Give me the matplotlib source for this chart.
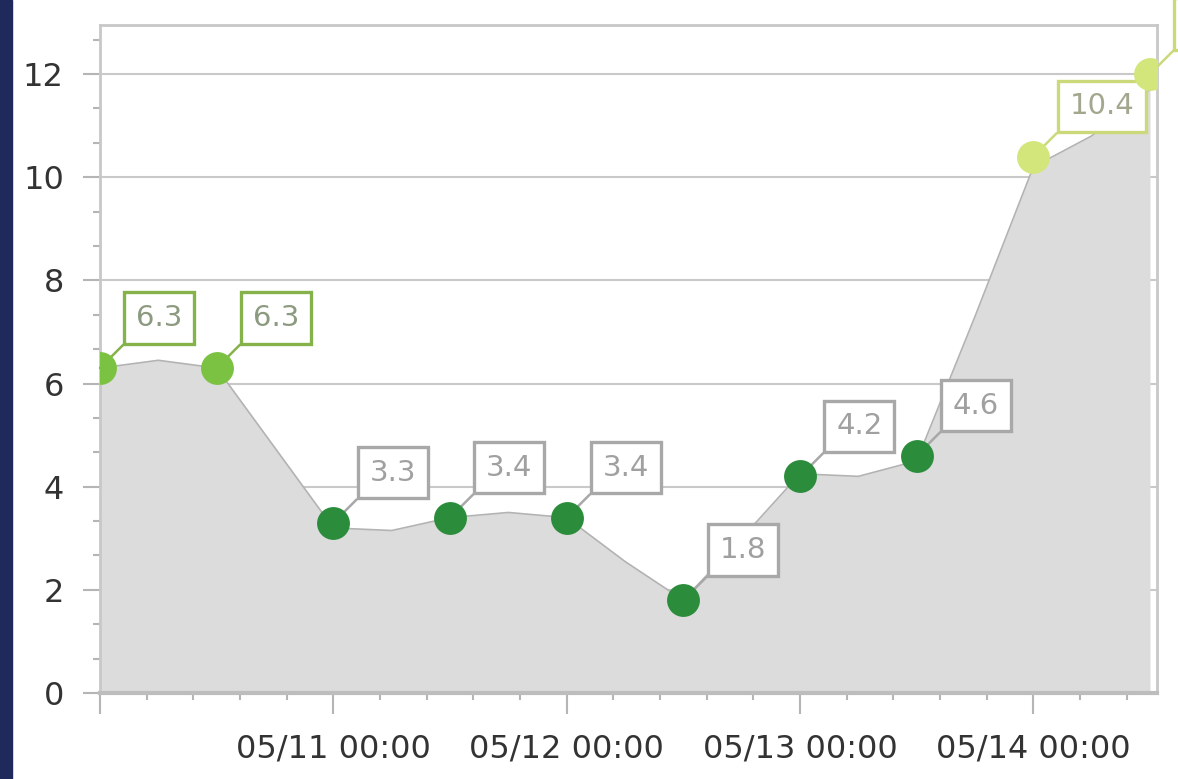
import matplotlib
matplotlib.use("Agg")
import matplotlib.pyplot as plt
import matplotlib.dates as mdates
from matplotlib.ticker import MultipleLocator, AutoMinorLocator
from matplotlib.patches import Rectangle
import pandas as pd

# point series (every 12 h)
point_times = ["2024-05-10 00:00", "2024-05-10 12:00", "2024-05-11 00:00",
               "2024-05-11 12:00", "2024-05-12 00:00", "2024-05-12 12:00",
               "2024-05-13 00:00", "2024-05-13 12:00", "2024-05-14 00:00",
               "2024-05-14 12:00"]
point_values = [6.3, 6.3, 3.3, 3.4, 3.4, 1.8, 4.2, 4.6, 10.4, 12.0]

# grey area (read every 6 h)
area_times = ["2024-05-10 00:00", "2024-05-10 06:00", "2024-05-10 12:00",
              "2024-05-10 18:00", "2024-05-11 00:00", "2024-05-11 06:00",
              "2024-05-11 12:00", "2024-05-11 18:00", "2024-05-12 00:00",
              "2024-05-12 06:00", "2024-05-12 12:00", "2024-05-12 18:00",
              "2024-05-13 00:00", "2024-05-13 06:00", "2024-05-13 12:00",
              "2024-05-13 18:00", "2024-05-14 00:00", "2024-05-14 06:00",
              "2024-05-14 12:00"]
area_values = [6.3, 6.45, 6.3, 4.75, 3.2, 3.15, 3.4, 3.5, 3.4, 2.55, 1.8,
               3.0, 4.25, 4.2, 4.5, 7.3, 10.2, 10.8, 11.7]

tick_times = ["2024-05-10 00:00", "2024-05-11 00:00", "2024-05-12 00:00",
              "2024-05-13 00:00", "2024-05-14 00:00"]
tick_labels = ["", "05/11 00:00", "05/12 00:00", "05/13 00:00", "05/14 00:00"]

pt_x = mdates.date2num(pd.to_datetime(point_times))
ar_x = mdates.date2num(pd.to_datetime(area_times))
tk_x = mdates.date2num(pd.to_datetime(tick_times))

fig = plt.figure(figsize=(11.78, 7.79), dpi=100)
fig.patches.append(Rectangle((0, 0), 12 / 1178, 1, transform=fig.transFigure,
                             color="#1f295b", zorder=0))
ax = fig.add_axes([100 / 1178, 86 / 779, 1057 / 1178, 668 / 779])

ax.fill_between(ar_x, area_values, 0, color="#dcdcdc", zorder=2, lw=0)
ax.plot(ar_x, area_values, color="#b3b3b3", lw=1.2, zorder=3)


def style_for(v):
    # marker colour, box border, text colour
    if v >= 8:
        return "#d3e67c", "#cbd97a", "#a2a78e"
    if v >= 5:
        return "#7cc242", "#86b24c", "#8c9a80"
    return "#2b8c3b", "#a8a8a8", "#a0a0a0"


for x, v in zip(pt_x, point_values):
    mc, bc, tc = style_for(v)
    sc = ax.scatter([x], [v], s=560, color=mc, lw=0, zorder=7)
    sc.set_clip_path(ax.patch)
    ax.annotate(f"{v:.1f}", xy=(x, v), xytext=(26, 26), textcoords="offset points",
                fontsize=21, color=tc, ha="left", va="bottom",
                bbox=dict(boxstyle="square,pad=0.4", fc="white", ec=bc, lw=2.4),
                arrowprops=dict(arrowstyle="-", color=bc, lw=1.8, relpos=(0, 0),
                                shrinkA=0, shrinkB=0),
                annotation_clip=False, zorder=6)

ax.set_xlim(pt_x[0], pt_x[0] + 4.53)
ax.set_ylim(0, 12.95)

ax.set_xticks(tk_x)
ax.set_xticklabels(tick_labels)
ax.xaxis.set_minor_locator(MultipleLocator(0.2))
ax.yaxis.set_major_locator(MultipleLocator(2))
ax.yaxis.set_minor_locator(AutoMinorLocator(3))

ax.grid(axis="y", which="major", color="#c9c9c9", lw=1.5, zorder=1)
ax.set_axisbelow(True)

ax.tick_params(axis="both", which="major", colors="#b5b5b5", labelcolor="#333333",
               labelsize=23, width=1.5)
ax.tick_params(axis="x", which="major", length=15, pad=14)
ax.tick_params(axis="y", which="major", length=12, pad=14)
ax.tick_params(axis="both", which="minor", colors="#b5b5b5", length=5, width=1.5)

for s in ["left", "top", "right"]:
    ax.spines[s].set_color("#c8c8c8")
    ax.spines[s].set_linewidth(2)
ax.spines["bottom"].set_color("#bdbdbd")
ax.spines["bottom"].set_linewidth(3)

fig.savefig("out.png", dpi=100)
